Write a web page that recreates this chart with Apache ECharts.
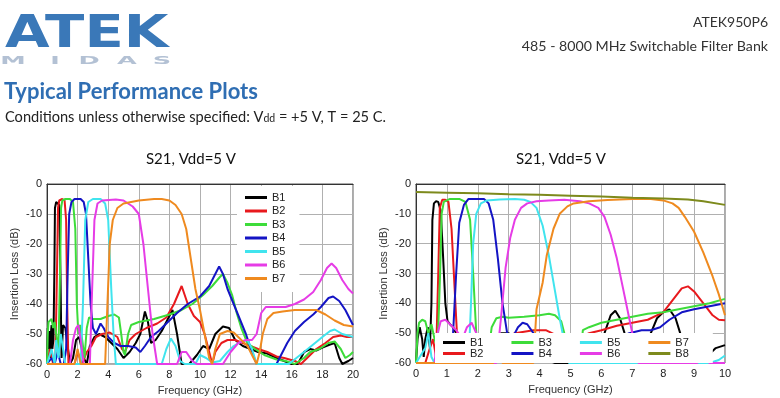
<!DOCTYPE html>
<html>
<head>
<meta charset="utf-8">
<script src="https://cdn.jsdelivr.net/npm/echarts@6/dist/echarts.min.js"></script>
<style>
  html, body { margin: 0; padding: 0; background: #fff; }
  #chart { width: 780px; height: 398px; }
</style>
</head>
<body>
<div id="chart"></div>
<script>
// band names + colours
const bandNames = ['B1', 'B2', 'B3', 'B4', 'B5', 'B6', 'B7', 'B8'];
const bandColors = ['#000000', '#e8191d', '#3ddc3a', '#1414c4', '#40e4ee', '#e63ce6', '#ef8a1f', '#7d8a1c'];

// ---- left plot, 0 - 20 GHz ----
const wideB1 = [[0,-60],[0.05,-48],[0.1,-55],[0.15,-49],[0.2,-58],[0.25,-50],[0.3,-47],[0.35,-55],[0.42,-52],[0.48,-30],[0.52,-8],[0.6,-6],[0.72,-5.5],[0.8,-7],[0.88,-30],[0.95,-58],[1.05,-47],[1.2,-48],[1.4,-56],[1.5,-60],[1.7,-58],[1.9,-52],[2.1,-51],[2.4,-58],[2.6,-60],[2.8,-54],[3.1,-51],[3.4,-50],[3.8,-51],[4.2,-53],[4.6,-55],[5.0,-58],[5.4,-56],[5.8,-53],[6.1,-50],[6.4,-42.5],[6.6,-46],[6.8,-53],[7.1,-52],[7.5,-49],[7.9,-45],[8.2,-42],[8.5,-50],[8.8,-60],[9.3,-60],[9.8,-57],[10.2,-54],[10.6,-55],[11.0,-50],[11.5,-47.5],[11.9,-48],[12.3,-52],[12.8,-54],[13.3,-55],[13.8,-56],[14.4,-56.5],[15,-58],[15.5,-59],[16,-60],[16.4,-60],[16.8,-56],[17.2,-55],[17.6,-55.5],[18,-54.5],[18.5,-53.5],[18.8,-53],[19.1,-58],[19.3,-60],[19.7,-59],[20,-58]];
const wideB2 = [[0,-60],[0.2,-55],[0.4,-60],[0.55,-58],[0.65,-30],[0.72,-8],[0.8,-5.5],[1.0,-5],[1.15,-5.5],[1.25,-12],[1.32,-40],[1.4,-60],[1.8,-60],[2.0,-56],[2.3,-60],[2.6,-56],[2.9,-54],[3.2,-51],[3.6,-50],[4.1,-49.5],[4.6,-51],[4.9,-55],[5.1,-56],[5.4,-52],[5.8,-50],[6.5,-48],[7.2,-46.5],[7.8,-44.5],[8.3,-40],[8.8,-34],[9.2,-40],[9.6,-44],[10.0,-46],[10.3,-50],[10.6,-56],[10.8,-60],[11.0,-56],[11.4,-53],[11.8,-52],[12.3,-52],[12.8,-53],[13.3,-54],[13.8,-55],[14.4,-56],[15.0,-57.5],[15.5,-58],[16.2,-59],[16.6,-60],[17.2,-57],[17.6,-55],[18.2,-53],[18.7,-51],[19.2,-50.5],[19.6,-51],[20,-51]];
const wideB3 = [[0,-60],[0.05,-50],[0.1,-46],[0.2,-46.5],[0.3,-45],[0.4,-48],[0.5,-46],[0.65,-52],[0.75,-55],[0.85,-30],[0.92,-8],[1.0,-5.5],[1.2,-5],[1.5,-5],[1.7,-6],[1.85,-15],[1.95,-40],[2.05,-50],[2.15,-47],[2.3,-52],[2.45,-58],[2.6,-48],[2.75,-44.5],[3.0,-45],[3.5,-45],[4.0,-44],[4.4,-43.5],[4.7,-44.5],[4.85,-50],[5.0,-56],[5.1,-57],[5.3,-50],[5.5,-47],[6.0,-46],[7.0,-45],[8.0,-43.5],[8.8,-42],[9.5,-40],[10.2,-37],[10.8,-34],[11.3,-31],[11.5,-30],[11.8,-33],[12.1,-37],[12.4,-43],[12.7,-48],[13.1,-53],[13.6,-55],[14.2,-57],[15.0,-58.5],[15.6,-59],[16.2,-60],[16.8,-58],[17.2,-56],[17.8,-55],[18.4,-53],[18.8,-52.5],[19.2,-55],[19.5,-58],[19.8,-57],[20,-56]];
const wideB4 = [[0,-60],[0.3,-58],[0.5,-60],[0.7,-56],[0.9,-60],[1.1,-60],[1.25,-55],[1.35,-30],[1.45,-10],[1.6,-6],[1.8,-5],[2.2,-5],[2.4,-6],[2.55,-10],[2.7,-25],[2.85,-40],[3.0,-48],[3.2,-50],[3.5,-46.5],[3.7,-48],[4.0,-51],[4.4,-53],[4.8,-54],[5.3,-54],[5.8,-54.5],[6.1,-56],[6.4,-54],[6.8,-51],[7.3,-49],[7.9,-46],[8.5,-43],[9.2,-40],[10.0,-37.5],[10.6,-34],[11.0,-30],[11.25,-27.5],[11.5,-30],[11.8,-35],[12.2,-40],[12.6,-45],[13.0,-50],[13.4,-56],[13.7,-60],[15.0,-60],[15.3,-57],[15.7,-53],[16.2,-49],[16.8,-46],[17.4,-43.5],[17.9,-41],[18.4,-38],[18.7,-37.5],[19.1,-39],[19.5,-42],[20,-47]];
const wideB5 = [[0,-60],[0.3,-55],[0.5,-60],[0.6,-52],[0.75,-58],[0.9,-50],[1.05,-55],[1.2,-60],[2.2,-60],[2.35,-40],[2.5,-12],[2.7,-6],[3.0,-5],[3.5,-5],[3.8,-6.5],[4.0,-12],[4.2,-35],[4.35,-50],[4.5,-60],[7.5,-60],[7.8,-55],[8.1,-51.5],[8.4,-54],[8.7,-59],[9.0,-60],[9.7,-60],[10.0,-57],[10.4,-58],[10.8,-59.5],[11.3,-59],[11.8,-56],[12.2,-54],[12.7,-52.5],[13.1,-52],[13.4,-55],[13.7,-60],[15.8,-60],[16.3,-58],[16.8,-56],[17.4,-53.5],[18.0,-51],[18.5,-49],[18.8,-48.5],[19.3,-50],[20,-51]];
const wideB6 = [[0,-60],[1.5,-60],[1.7,-52],[1.9,-48],[2.05,-47],[2.2,-52],[2.4,-60],[2.8,-60],[2.95,-35],[3.1,-12],[3.3,-6.5],[3.6,-5.5],[4.5,-5.2],[5.0,-5.5],[5.6,-7.5],[6.0,-10],[6.3,-20],[6.6,-35],[6.9,-50],[7.2,-60],[8.5,-60],[8.8,-56],[9.1,-56],[9.5,-59],[9.8,-60],[11.5,-60],[12.0,-56],[12.5,-53],[13.0,-52],[13.4,-52],[13.7,-50],[14.0,-43],[14.3,-41],[15.0,-41],[15.6,-41],[16.2,-40],[16.8,-38.5],[17.4,-36],[17.9,-32],[18.3,-28],[18.6,-26.5],[18.9,-28],[19.3,-32],[19.7,-35],[20,-36.5]];
const wideB7 = [[0,-60],[1.8,-60],[2.0,-55],[2.2,-60],[3.8,-60],[3.95,-40],[4.1,-20],[4.3,-12],[4.6,-8],[5.0,-6.5],[5.5,-6],[6.0,-5.5],[7.0,-5],[7.5,-5],[8.0,-5.5],[8.4,-7],[8.8,-10],[9.1,-15],[9.4,-25],[9.7,-35],[10.0,-42],[10.3,-50],[10.6,-58],[10.8,-60],[11.0,-55],[11.3,-50],[11.8,-49],[12.2,-49.5],[12.7,-52],[13.1,-54],[13.5,-58],[13.7,-60],[13.9,-56],[14.1,-50],[14.4,-45],[14.8,-43],[15.4,-42.5],[16.2,-42],[17.0,-42],[17.6,-42],[18.2,-43.5],[18.8,-45.5],[19.4,-47],[20,-47.5]];

// ---- right plot, 0 - 10 GHz ----
const zoomB1 = [[0,-60],[0.05,-52],[0.12,-48],[0.2,-52],[0.25,-58],[0.3,-52],[0.38,-48],[0.45,-55],[0.5,-40],[0.53,-12],[0.58,-6.5],[0.65,-5.8],[0.72,-6],[0.8,-9],[0.88,-25],[0.95,-40],[1.02,-46],[1.1,-47],[1.2,-48],[1.3,-50],[1.45,-55],[1.6,-60],[2.5,-60],[2.6,-55],[2.75,-50],[3.0,-50],[3.2,-52],[3.6,-55],[4.0,-58],[4.5,-60],[5.5,-60],[5.9,-55],[6.1,-50],[6.3,-44],[6.45,-42.5],[6.6,-45],[6.75,-50],[6.9,-53],[7.1,-52],[7.4,-53],[7.6,-50],[7.8,-45],[8.0,-43],[8.2,-42],[8.4,-45],[8.55,-50],[8.7,-57],[8.9,-60],[9.3,-60],[9.5,-57],[9.7,-55],[10,-54]];
const zoomB2 = [[0,-60],[0.3,-60],[0.45,-55],[0.55,-52],[0.65,-58],[0.72,-30],[0.77,-8],[0.85,-5.3],[0.95,-5.3],[1.05,-6],[1.15,-15],[1.25,-35],[1.35,-55],[1.45,-60],[2.5,-60],[2.65,-54],[2.8,-52],[3.2,-50],[3.8,-49],[4.2,-49],[4.6,-51],[4.9,-55],[5.2,-52],[5.6,-50],[6.0,-49],[6.5,-47.5],[7.0,-46.5],[7.5,-45.5],[8.0,-43],[8.3,-39],[8.6,-35],[8.8,-34.3],[9.0,-36],[9.3,-40],[9.6,-44],[9.8,-45.5],[10,-45.7]];
const zoomB3 = [[0,-60],[0.05,-50],[0.1,-46.5],[0.2,-45.5],[0.3,-46],[0.4,-50],[0.5,-47],[0.6,-52],[0.7,-55],[0.78,-30],[0.83,-10],[0.9,-6],[1.1,-5],[1.4,-5],[1.6,-6],[1.75,-12],[1.85,-30],[1.95,-50],[2.05,-60],[2.3,-60],[2.45,-48],[2.6,-45],[2.8,-44.5],[3.0,-44.8],[3.5,-44.5],[4.0,-44],[4.3,-43.5],[4.5,-44],[4.7,-46],[4.85,-52],[5.0,-60],[5.3,-60],[5.4,-49],[5.6,-48],[6.0,-46.5],[6.5,-45.5],[7.0,-44.5],[7.5,-43.5],[8.0,-43],[8.5,-42],[9.0,-41],[9.5,-40],[10,-38.5]];
const zoomB4 = [[0,-60],[1.1,-60],[1.2,-50],[1.3,-30],[1.4,-13],[1.55,-7],[1.7,-5],[2.2,-5],[2.35,-6.5],[2.5,-12],[2.65,-25],[2.8,-40],[2.95,-50],[3.1,-52],[3.3,-48],[3.45,-46.5],[3.6,-47],[3.8,-50],[4.0,-52],[4.5,-55],[5.0,-56],[5.5,-56],[6.0,-55],[6.5,-52],[6.9,-50],[7.3,-49],[7.6,-49],[7.9,-48],[8.2,-45.5],[8.6,-43],[9.0,-42],[9.5,-41],[10,-40]];
const zoomB5 = [[0,-60],[0.3,-55],[0.4,-50],[0.5,-58],[0.6,-60],[1.7,-60],[1.78,-40],[1.85,-20],[1.95,-10],[2.1,-6.5],[2.3,-5.5],[2.7,-5.2],[3.2,-5],[3.5,-5.3],[3.7,-6],[3.9,-8],[4.1,-14],[4.3,-24],[4.5,-36],[4.65,-45],[4.8,-53],[4.95,-60],[9.5,-60],[9.8,-59],[10,-57.5]];
const zoomB6 = [[0,-60],[0.6,-60],[0.7,-50],[0.8,-46],[0.95,-45.5],[1.1,-47],[1.3,-49],[1.5,-52],[1.65,-48],[1.8,-46.5],[1.95,-50],[2.1,-60],[2.6,-60],[2.75,-45],[2.9,-28],[3.05,-18],[3.2,-12],[3.4,-8],[3.6,-6.5],[3.9,-5.8],[4.3,-5.5],[4.8,-5.3],[5.3,-5.8],[5.6,-6.5],[5.9,-8],[6.1,-11],[6.3,-17],[6.5,-25],[6.7,-35],[6.9,-45],[7.1,-55],[7.2,-60],[9.1,-60],[9.3,-58],[9.5,-60],[10,-60]];
const zoomB7 = [[0,-60],[2.5,-60],[2.6,-55],[2.7,-52],[2.8,-60],[3.8,-60],[3.9,-42],[4.1,-33],[4.23,-24],[4.45,-15],[4.65,-10],[4.9,-7.5],[5.1,-6.5],[5.6,-5.8],[6.2,-5.4],[7.0,-5],[7.6,-5],[8.0,-5.5],[8.3,-6.5],[8.5,-8],[8.7,-11],[9.0,-16],[9.3,-23],[9.6,-31],[9.8,-37],[10,-44]];
const zoomB8 = [[0,-2.7],[1,-2.9],[2,-3.1],[3,-3.4],[4,-3.6],[5,-3.9],[6,-4.2],[7,-4.6],[8,-4.9],[8.8,-5.2],[9.3,-5.8],[10,-7]];

const wideData = [wideB1, wideB2, wideB3, wideB4, wideB5, wideB6, wideB7];
const zoomData = [zoomB1, zoomB2, zoomB3, zoomB4, zoomB5, zoomB6, zoomB7, zoomB8];

const chartFont = '"Liberation Sans", Arial, sans-serif';
const docFont = 'Lato, "Open Sans", sans-serif';

function makeLine(name, data, color, idx) {
  return {
    name: name,
    type: 'line',
    xAxisIndex: idx,
    yAxisIndex: idx,
    data: data,
    showSymbol: false,
    silent: true,
    clip: true,
    lineStyle: { color: color, width: 2 },
    itemStyle: { color: color }
  };
}

let series = [];
wideData.forEach(function (d, i) { series.push(makeLine(bandNames[i], d, bandColors[i], 0)); });
zoomData.forEach(function (d, i) { series.push(makeLine(bandNames[i], d, bandColors[i], 1)); });

function xAxisOf(idx, max, step) {
  return {
    gridIndex: idx, type: 'value', min: 0, max: max, interval: step,
    name: 'Frequency (GHz)', nameLocation: 'middle', nameGap: 21,
    nameTextStyle: { fontFamily: chartFont, fontSize: 11, color: '#333' },
    axisLine: { show: true, lineStyle: { color: '#333', width: 1 } },
    axisTick: { show: false },
    axisLabel: { fontFamily: chartFont, fontSize: 11, color: '#222', margin: 5 },
    splitLine: { show: true, lineStyle: { color: '#b0b0b0', width: 1 } }
  };
}
function yAxisOf(idx) {
  return {
    gridIndex: idx, type: 'value', min: -60, max: 0, interval: 10,
    name: 'Insertion Loss (dB)', nameLocation: 'middle', nameGap: 27,
    nameTextStyle: { fontFamily: chartFont, fontSize: 11, color: '#333' },
    axisLine: { show: true, lineStyle: { color: '#333', width: 1 } },
    axisTick: { show: false },
    axisLabel: { fontFamily: chartFont, fontSize: 11, color: '#222', margin: 5 },
    splitLine: { show: true, lineStyle: { color: '#b0b0b0', width: 1 } }
  };
}

const legendText = { fontFamily: chartFont, fontSize: 11, color: '#222' };

// the flattened "MIDAS" letters under the logo
const midasLetters = ['M', 'I', 'D', 'A', 'S'];
const midasX = [13, 55, 89, 127, 162];
const midasGraphic = midasLetters.map(function (ch, i) {
  return { type: 'text', x: midasX[i], y: 61, scaleX: 1.6, scaleY: 0.65,
    style: { text: ch, font: 'bold 16px "DejaVu Sans"', fill: '#b3c1d4', textAlign: 'center', textVerticalAlign: 'middle' } };
});

const option = {
  animation: false,
  backgroundColor: '#fff',
  title: [
    { text: 'S21, Vdd=5 V', left: 186, top: 147, textAlign: 'center',
      textStyle: { fontFamily: docFont, fontSize: 15, fontWeight: 'normal', color: '#111' } },
    { text: 'S21, Vdd=5 V', left: 556, top: 147, textAlign: 'center',
      textStyle: { fontFamily: docFont, fontSize: 15, fontWeight: 'normal', color: '#111' } }
  ],
  grid: [
    { left: 47, top: 184, width: 306, height: 180, show: true, borderColor: '#555', borderWidth: 1, backgroundColor: '#fff' },
    { left: 416, top: 184, width: 309, height: 179, show: true, borderColor: '#555', borderWidth: 1, backgroundColor: '#fff' }
  ],
  xAxis: [xAxisOf(0, 20, 2), xAxisOf(1, 10, 1)],
  yAxis: [yAxisOf(0), yAxisOf(1)],
  legend: [
    { data: bandNames.slice(0, 7), orient: 'vertical', left: 237, top: 186,
      icon: 'rect', itemWidth: 22, itemHeight: 3, itemGap: 2.5,
      padding: [6, 14, 8, 8], backgroundColor: '#fff', selectedMode: false,
      textStyle: legendText },
    { data: ['B1', 'B3', 'B5', 'B7'], orient: 'horizontal', left: 435, top: 333,
      icon: 'rect', itemWidth: 22, itemHeight: 3, itemGap: 28,
      padding: [4, 24, 1, 8], backgroundColor: '#fff', selectedMode: false,
      textStyle: legendText },
    { data: ['B2', 'B4', 'B6', 'B8'], orient: 'horizontal', left: 435, top: 347,
      icon: 'rect', itemWidth: 22, itemHeight: 3, itemGap: 28,
      padding: [1, 24, 4, 8], backgroundColor: '#fff', selectedMode: false,
      textStyle: legendText }
  ],
  graphic: [
    { type: 'text', x: 5, y: 35, scaleX: 1.28, style: { text: 'ATEK', font: 'bold 45px "DejaVu Sans"', fill: '#3a78b8', textVerticalAlign: 'middle' } }
  ].concat(midasGraphic).concat([
    { type: 'text', x: 4, y: 92, style: { text: 'Typical Performance Plots', font: 'bold 22px ' + docFont, fill: '#2f6eb3', textVerticalAlign: 'middle' } },
    { type: 'text', x: 5, y: 117, style: {
        text: '{a|Conditions unless otherwise specified: V}{s|dd}{a| = +5 V, T = 25 C.}',
        textVerticalAlign: 'middle',
        rich: {
          a: { fontFamily: docFont, fontSize: 14.6, fill: '#222', color: '#222' },
          s: { fontFamily: docFont, fontSize: 10.5, fill: '#222', color: '#222', padding: [4, 0, 0, 0] }
        }
    } },
    { type: 'text', x: 768, y: 22, style: { text: 'ATEK950P6', font: '14px ' + docFont, fill: '#333', textAlign: 'right', textVerticalAlign: 'middle' } },
    { type: 'text', x: 768, y: 46, style: { text: '485 - 8000 MHz Switchable Filter Bank', font: '14.2px ' + docFont, fill: '#333', textAlign: 'right', textVerticalAlign: 'middle' } }
  ]),
  series: series
};

const myChart = echarts.init(document.getElementById('chart'), null, { renderer: 'canvas' });
myChart.setOption(option);
</script>
</body>
</html>
